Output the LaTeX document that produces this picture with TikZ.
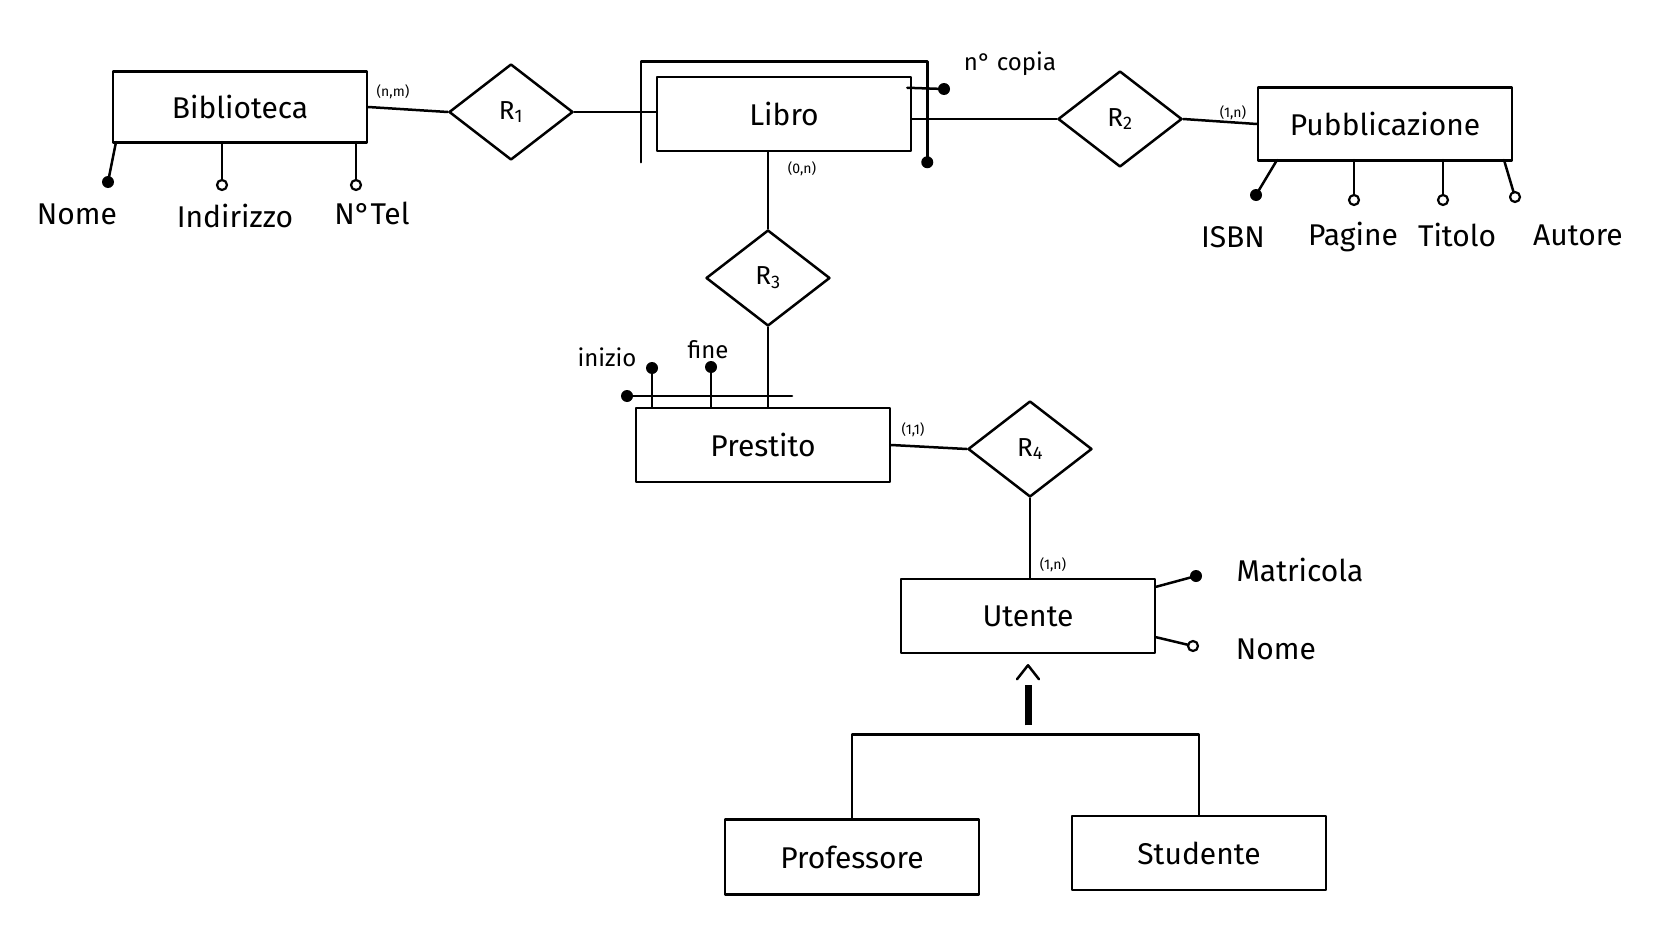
\documentclass[tikz,border=0pt]{standalone}
\usepackage{fontspec}
\setmainfont{Fira Sans}
\usetikzlibrary{shapes.geometric,calc}
\begin{document}
\begin{tikzpicture}[x=1pt,y=-1pt,
  line width=2.5pt, line join=round, line cap=round,
  entity/.style={draw, rectangle, minimum width=254pt, minimum height=73pt,
    inner sep=0pt, font=\fontsize{30}{32}\selectfont},
  rel/.style={draw, diamond, minimum width=124pt, minimum height=96pt,
    inner sep=0pt, font=\fontsize{26}{28}\selectfont},
  attr/.style={font=\fontsize{30}{32}\selectfont, inner sep=0pt},
  small/.style={font=\fontsize{24}{26}\selectfont, inner sep=0pt},
  card/.style={font=\fontsize{14}{16}\selectfont, inner sep=0pt},
  keydot/.style={fill=black},
  optdot/.style={draw=black, fill=white, line width=2.2pt}
]
\fill[white] (0,0) rectangle (1655,934);
\useasboundingbox (0,0) rectangle (1655,934);

% entities and relationships
\node[entity, minimum height=71pt] (bib) at (240,107) {Biblioteca};
\node[rel] (r1) at (511,112) {R\textsubscript{1}};
\node[entity, minimum height=74pt] (libro) at (784,114) {Libro};
\node[rel] (r2) at (1120,119) {R\textsubscript{2}};
\node[entity] (pub) at (1385,124) {Pubblicazione};
\node[rel] (r3) at (768,278) {R\textsubscript{3}};
\node[entity, minimum height=74pt] (prest) at (763,445) {Prestito};
\node[rel] (r4) at (1030,449) {R\textsubscript{4}};
\node[entity, minimum height=74pt] (ut) at (1028,616) {Utente};
\node[entity, minimum height=75pt] (prof) at (852,857) {Professore};
\node[entity, minimum height=74pt] (stud) at (1199,853) {Studente};

% links
\draw (bib.east) -- (r1.west);
\draw (r1.east) -- (r1.east -| libro.west);
\draw (libro.east |- r2.west) -- (r2.west);
\draw (r2.east) -- (pub.west);
\draw (libro.south -| r3.north) -- (r3.north);
\draw (r3.south) -- (r3.south |- prest.north);
\draw (prest.east) -- (r4.west);
\draw (r4.south) -- (r4.south |- ut.north);

% cardinalities
\node[card] (cbib) at (393,92) {(n,m)};
\node[card] (clib) at (802,169) {(0,n)};
\node[card] (cpub) at (1233,113) {(1,n)};
\node[card] (cpre) at (913,430) {(1,1)};
\node[card] (cute) at (1053,565) {(1,n)};

% external identifier of Libro
\coordinate (lbTL) at ($(libro.north west)+(-15,-14)$);
\coordinate (lbBL) at ($(libro.south west)+(-15,10)$);
\coordinate (lbTR) at ($(libro.north east)+(15,-14)$);
\coordinate (lbBR) at ($(libro.south east)+(15,10)$);
\draw (lbBL) -- (lbTL) -- (lbTR) -- (lbBR);
\fill[keydot] (lbBR) circle (6pt);
\coordinate (ncA) at ($(libro.north east)+(-5,12)$);
\coordinate (ncD) at (944,89);
\draw (ncA) -- (ncD);
\fill[keydot] (ncD) circle (6pt);
\node[small] (ncopia) at (1010,64) {n° copia};

% attributes of Biblioteca
\coordinate (bA1) at (116,142); \coordinate (bD1) at (108,182);
\coordinate (bA2) at (222,142); \coordinate (bD2) at (222,185);
\coordinate (bA3) at (356,142); \coordinate (bD3) at (356,185);
\draw (bA1) -- (bD1); \fill[keydot] (bD1) circle (6pt);
\draw (bA2) -- (bD2); \draw[optdot] (bD2) circle (5pt);
\draw (bA3) -- (bD3); \draw[optdot] (bD3) circle (5pt);
\node[attr] (bnome) at (77,214) {Nome};
\node[attr] (bind) at (235,216) {Indirizzo};
\node[attr] (btel) at (372,213) {N°Tel};

% attributes of Pubblicazione
\coordinate (pA1) at (1277,160); \coordinate (pD1) at (1256,195);
\coordinate (pA2) at (1354,160); \coordinate (pD2) at (1354,200);
\coordinate (pA3) at (1443,160); \coordinate (pD3) at (1443,200);
\coordinate (pA4) at (1504,160); \coordinate (pD4) at (1515,197);
\draw (pA1) -- (pD1); \fill[keydot] (pD1) circle (6pt);
\draw (pA2) -- (pD2); \draw[optdot] (pD2) circle (5pt);
\draw (pA3) -- (pD3); \draw[optdot] (pD3) circle (5pt);
\draw (pA4) -- (pD4); \draw[optdot] (pD4) circle (5pt);
\node[attr] (isbn) at (1233,237) {ISBN};
\node[attr] (pagine) at (1353,237) {Pagine};
\node[attr] (titolo) at (1457,235) {Titolo};
\node[attr] (autore) at (1578,235) {Autore};

% composite identifier of Prestito
\coordinate (ini) at (652,368);
\coordinate (fin) at (711,367);
\draw (ini |- prest.north) -- (ini); \fill[keydot] (ini) circle (6pt);
\draw (fin |- prest.north) -- (fin); \fill[keydot] (fin) circle (6pt);
\coordinate (ckL) at (627,396);
\coordinate (ckR) at (792,396);
\draw (ckL) -- (ckR); \fill[keydot] (ckL) circle (6pt);
\node[small] (inizio) at (607,357) {inizio};
\node[small] (fine) at (708,350) {fine};

% attributes of Utente
\coordinate (uA1) at ($(ut.north east)+(0,9)$); \coordinate (uD1) at (1196,576);
\coordinate (uA2) at ($(ut.south east)+(0,-17)$); \coordinate (uD2) at (1193,646);
\draw (uA1) -- (uD1); \fill[keydot] (uD1) circle (6pt);
\draw (uA2) -- (uD2); \draw[optdot] (uD2) circle (5pt);
\node[attr] (matr) at (1300,570) {Matricola};
\node[attr] (unome) at (1276,649) {Nome};

% generalization of Utente
\coordinate (gen) at ($(ut.south)+(0,80)$);
\draw (prof.north) |- (gen) -| (stud.north);
\draw[line width=7pt, line cap=butt] ($(gen)+(0,-9)$) -- ($(gen)+(0,-49)$);
\draw ($(ut.south)+(-11,25)$) -- ($(ut.south)+(0,11)$) -- ($(ut.south)+(11,25)$);
\end{tikzpicture}
\end{document}
